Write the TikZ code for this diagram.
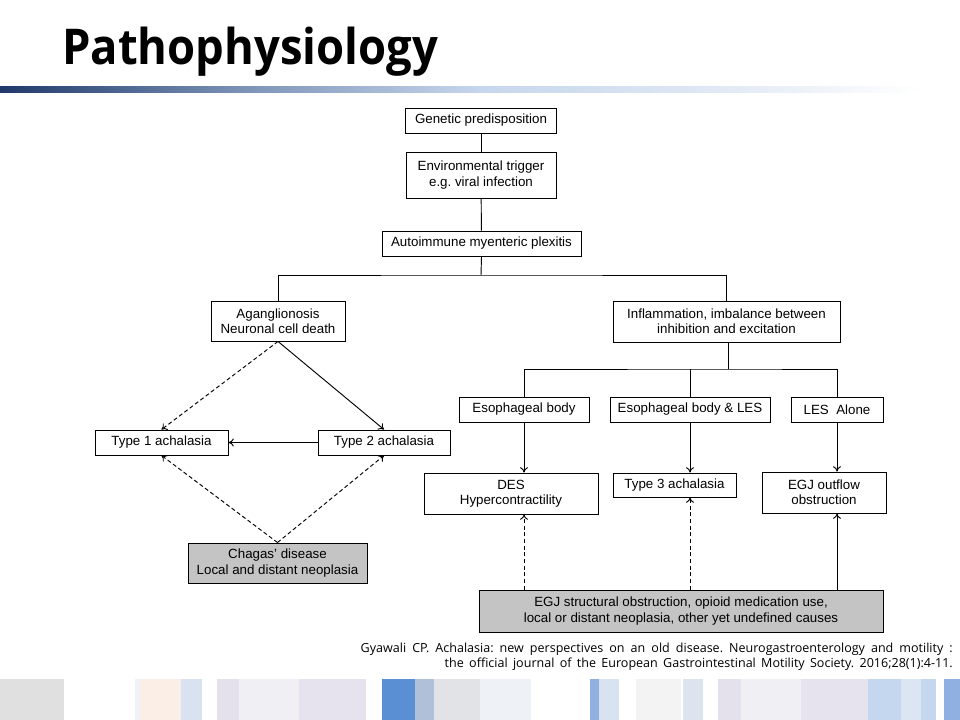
\documentclass[tikz,border=0pt]{standalone}
\usepackage{fontspec}
\setmainfont{Liberation Sans}
\newfontfamily\titlefont{Open Sans}
\newfontfamily\citefont{Open Sans}
\usetikzlibrary{arrows.meta}
\frenchspacing
\definecolor{barnavy}{HTML}{1F3A6A}
\definecolor{barmid}{HTML}{7E95B8}
\definecolor{barlight}{HTML}{C6D6EC}
\definecolor{boxgray}{HTML}{C4C4C4}
\pgfdeclarehorizontalshading{titlebar}{100bp}{color(0bp)=(barnavy); color(25bp)=(barnavy); color(38bp)=(barmid); color(50bp)=(barlight); color(61bp)=(barlight!60!white); color(73bp)=(white); color(100bp)=(white)}
\begin{document}
\begin{tikzpicture}[x=0.75pt,y=-0.75pt,
  box/.style={draw=black,line width=0.7pt,fill=white,inner sep=0pt,align=center,
    font=\fontsize{10}{11.5}\selectfont},
  gbox/.style={box,fill=boxgray},
  sz/.style 2 args={minimum width=#1*0.75pt,minimum height=#2*0.75pt},
  conn/.style={line width=0.7pt},
  arr/.style={conn,-{To[length=4pt,width=6pt]}},
  darr/.style={arr,dash pattern=on 3pt off 2pt},
  citestyle/.style={anchor=base east,inner sep=0pt,font=\citefont\fontsize{9.4}{10}\selectfont}]
\useasboundingbox (0,0) rectangle (960,720);

% title
\node[anchor=base west,inner sep=0pt,xscale=0.92,font=\titlefont\bfseries\fontsize{37}{40}\selectfont] (title) at (62,65) {Pathophysiology};
\shade[shading=titlebar] (0,87) rectangle (960,93);

% nodes
\node[box,sz={151}{25}] (gen) at (481,120.5) {Genetic predisposition};
\node[box,sz={150}{46}] (env) at (481,175) {Environmental trigger\\e.g. viral infection};
\node[box,sz={199}{25}] (auto) at (481.5,243.5) {Autoimmune myenteric plexitis};
\node[box,sz={134}{40}] (agang) at (278,321) {Aganglionosis\\Neuronal cell death};
\node[box,sz={227}{41}] (infl) at (726.5,321.5) {Inflammation, imbalance between\\inhibition and excitation};
\node[box,sz={130}{25}] (eb) at (524,409.5) {Esophageal body};
\node[box,sz={160}{25}] (ebl) at (690,409.5) {Esophageal body \& LES};
\node[box,sz={92}{25}] (les) at (837,409.5) {LES\ \ Alone};
\node[box,sz={174}{41}] (des) at (511,493.5) {DES\\Hypercontractility};
\node[box,sz={123}{24}] (t3) at (674.5,485) {Type 3 achalasia};
\node[box,sz={124}{41}] (egj) at (824,492.5) {EGJ outflow\\obstruction};
\node[gbox,sz={404}{42}] (cause) at (681,611) {EGJ structural obstruction, opioid medication use,\\local or distant neoplasia, other yet undefined causes};
\node[box,sz={133}{25}] (t1) at (161.5,442.5) {Type 1 achalasia};
\node[box,sz={132}{25}] (t2) at (384,442.5) {Type 2 achalasia};
\node[gbox,sz={179}{40}] (chagas) at (277.5,563) {Chagas' disease\\Local and distant neoplasia};

% tree connectors
\coordinate (j1) at (481,275);
\coordinate (j2) at (728,369);
\draw[conn] (gen) -- (env);
\draw[conn] (env) -- (auto);
\draw[conn] (auto.south) -- (j1);
\draw[conn] (agang.north) |- (j1) -| (infl.north);
\draw[conn] (infl.south -| j2) -- (j2);
\draw[conn] (eb.north) |- (j2) -| (les.north);
\draw[conn] (ebl.north) -- (ebl.north |- j2);

\draw[arr] (eb.south) -- (eb.south |- des.north);
\draw[arr] (ebl.south) -- (ebl.south |- t3.north);
\draw[arr] (les.south) -- (les.south |- egj.north);
\draw[darr] (cause.north -| eb.south) -- (eb.south |- des.south);
\draw[darr] (cause.north -| ebl.south) -- (ebl.south |- t3.south);
\draw[arr] (cause.north -| les.south) -- (les.south |- egj.south);

% left part
\draw[darr] (agang.south) -- (t1.north);
\draw[arr] (agang.south) -- (t2.north);
\draw[arr] (t2.west) -- (t1.east);
\draw[darr] (chagas.north) -- (t1.south);
\draw[darr] (chagas.north) -- (t2.south);

% citation
\node[citestyle] (cite1) at (953,652) {\makebox[444pt][s]{Gyawali CP. Achalasia: new perspectives on an old disease. Neurogastroenterology and motility :}};
\node[citestyle] (cite2) at (953,667) {\makebox[381pt][s]{the official journal of the European Gastrointestinal Motility Society. 2016;28(1):4-11.}};

% bottom decorative bars
\foreach \a/\b/\c in {0/64/E0E0E0, 135/140/F0F2F5, 140/181/FAEEE6, 181/202/D8E2F0,
  217/239/E4E0EC, 239/299/F0EFF4, 299/366/E6E2EE,
  382/415/5B8FD4, 415/434/AFC0D8, 434/480/E2E3E6, 480/531/EEF1F5,
  590/599/8FB0E0, 599/619/D8E2F0, 636/681/F3F3F3, 683/703/DDE4EE,
  718/741/E4E0EC, 741/801/F0EFF4, 801/868/E6E2EE,
  868/901/C5D7EE, 901/921/DCE6F2, 921/936/C5D7EE, 944/960/8FB0E0}{
  \definecolor{tmpc}{HTML}{\c}
  \fill[tmpc] (\a,679) rectangle (\b,720);
}
\end{tikzpicture}
\end{document}
